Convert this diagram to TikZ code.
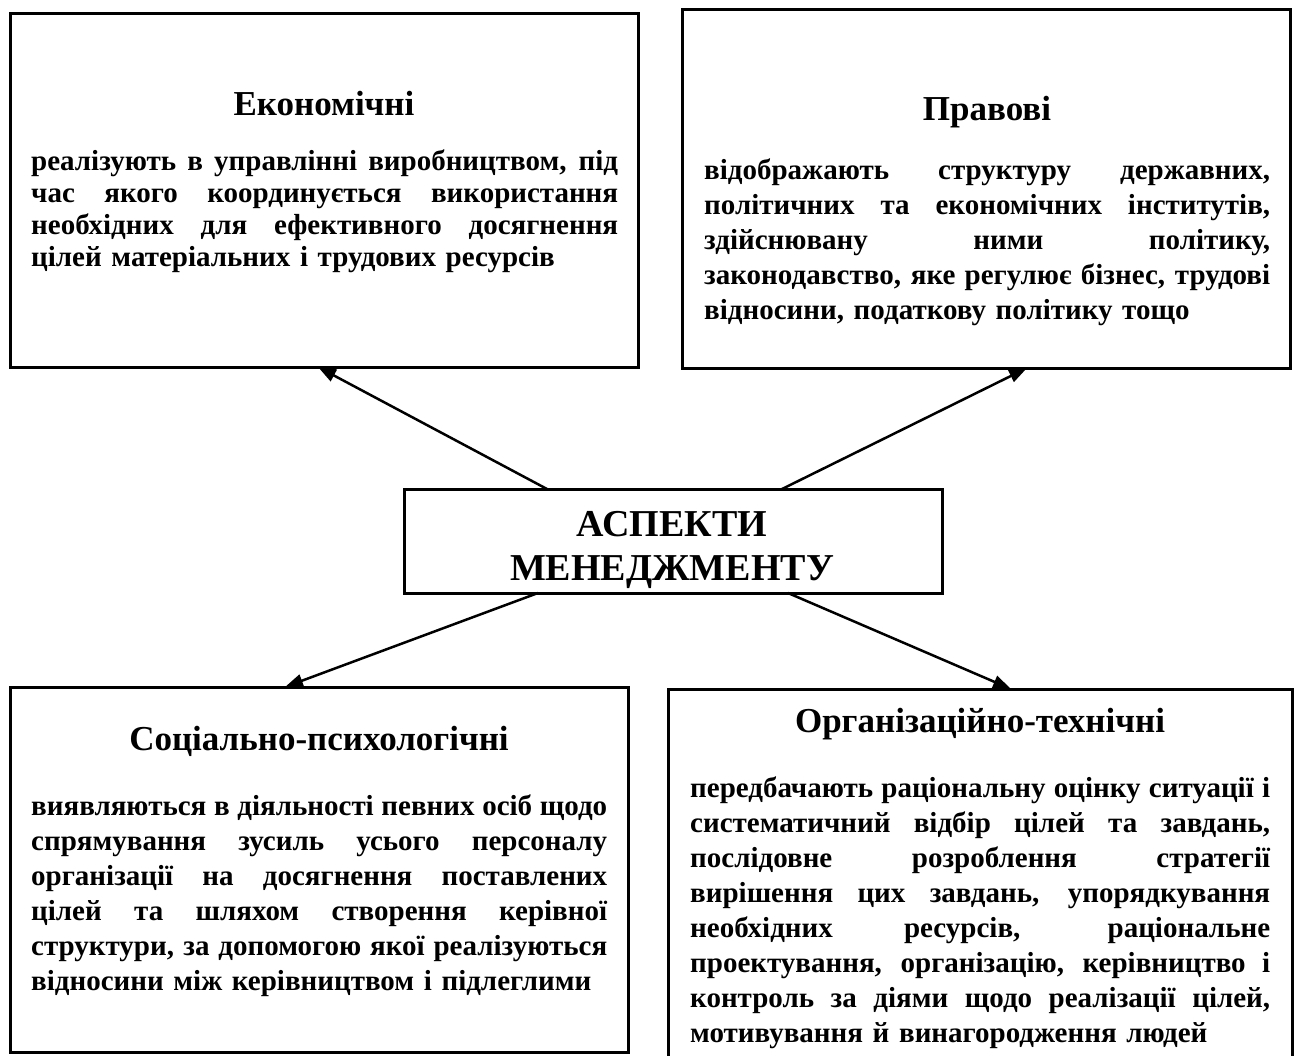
\documentclass[tikz,border=0pt]{standalone}
\usepackage{fontspec}
\setmainfont{Liberation Serif}
\usetikzlibrary{arrows.meta}
\newcommand\jl[2]{\leavevmode\hbox to #1{\spaceskip=\fontdimen2\font plus 1fil minus \fontdimen4\font\relax #2}}
\tikzset{
  box/.style={draw=black, line width=3pt, inner sep=0pt, outer sep=0pt, fill=none},
  arr/.style={line width=2.5pt, -{Triangle[length=18pt,width=13pt]}},
  ttl/.style={anchor=base, inner sep=0pt, font=\fontsize{35}{40}\selectfont\bfseries},
  ctr/.style={anchor=base, inner sep=0pt, font=\fontsize{38}{44}\selectfont\bfseries},
  bodyA/.style={anchor=base west, inner sep=0pt, align=left, font=\fontsize{29}{32}\selectfont\bfseries},
  bodyB/.style={anchor=base west, inner sep=0pt, align=left, font=\fontsize{29}{35}\selectfont\bfseries},
}
\begin{document}
\begin{tikzpicture}[x=1pt,y=-1pt]
\useasboundingbox (0,0) rectangle (1297,1055);
% boxes
\node[box, minimum width=628pt, minimum height=354pt, anchor=north west] (tl) at (10,13) {};
\node[box, minimum width=608pt, minimum height=359pt, anchor=north west] (tr) at (682,9) {};
\node[box, minimum width=538pt, minimum height=104pt, anchor=north west] (c) at (404,489) {};
\node[box, minimum width=618pt, minimum height=365pt, anchor=north west] (bl) at (10,687) {};
\node[box, minimum width=624pt, minimum height=372pt, anchor=north west] (br) at (668,689) {};
% center text
\node[ctr] (ct1) at (672,536) {АСПЕКТИ};
\node[ctr] (ct2) at (672,580) {МЕНЕДЖМЕНТУ};
% titles
\node[ttl] (tlt) at (324,115) {Економічні};
\node[ttl] (trt) at (987,120) {Правові};
\node[ttl] (blt) at (319,750) {Соціально-психологічні};
\node[ttl] (brt) at (980,732) {Організаційно-технічні};
% bodies
\node[bodyA, text width=587pt] (tlb) at (31,170) {%
\jl{587pt}{реалізують в управлінні виробництвом, під}\\
\jl{587pt}{час якого координується використання}\\
\jl{587pt}{необхідних для ефективного досягнення}\\
цілей матеріальних і трудових ресурсів};
\node[bodyB, text width=566pt] (trb) at (704,179) {%
\jl{566pt}{відображають структуру державних,}\\
\jl{566pt}{політичних та економічних інститутів,}\\
\jl{566pt}{здійснювану ними політику,}\\
\jl{566pt}{законодавство, яке регулює бізнес, трудові}\\
відносини, податкову політику тощо};
\node[bodyB, text width=576pt] (blb) at (31,815) {%
\jl{576pt}{виявляються в діяльності певних осіб щодо}\\
\jl{576pt}{спрямування зусиль усього персоналу}\\
\jl{576pt}{організації на досягнення поставлених}\\
\jl{576pt}{цілей та шляхом створення керівної}\\
\jl{576pt}{структури, за допомогою якої реалізуються}\\
відносини між керівництвом і підлеглими};
\node[bodyB, text width=580pt] (brb) at (690,797) {%
\jl{580pt}{передбачають раціональну оцінку ситуації і}\\
\jl{580pt}{систематичний відбір цілей та завдань,}\\
\jl{580pt}{послідовне розроблення стратегії}\\
\jl{580pt}{вирішення цих завдань, упорядкування}\\
\jl{580pt}{необхідних ресурсів, раціональне}\\
\jl{580pt}{проектування, організацію, керівництво і}\\
\jl{580pt}{контроль за діями щодо реалізації цілей,}\\
мотивування й винагородження людей};
% arrows
\draw[arr] ([xshift=143pt]c.north west) -- ([xshift=308pt]tl.south west);
\draw[arr] ([xshift=378pt]c.north west) -- ([xshift=345pt]tr.south west);
\draw[arr] ([xshift=134pt]c.south west) -- ([xshift=275pt]bl.north west);
\draw[arr] ([xshift=384pt]c.south west) -- ([xshift=343pt]br.north west);
\end{tikzpicture}
\end{document}
